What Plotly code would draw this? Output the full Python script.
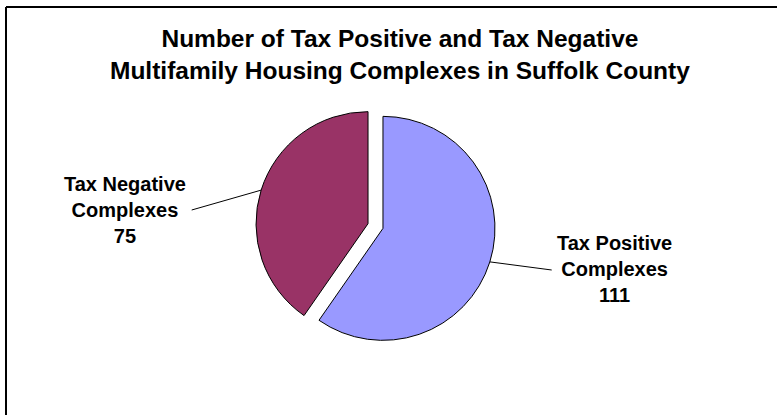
import numpy as np
import plotly.graph_objects as go

# ---- data ----
categories = ["Tax Positive Complexes", "Tax Negative Complexes"]
label_names = ["Tax Positive<br>Complexes", "Tax Negative<br>Complexes"]
values = [111, 75]
colors = ["#9999FF", "#993366"]
title_lines = ["Number of Tax Positive and Tax Negative",
               "Multifamily Housing Complexes in Suffolk County"]

W, H = 777, 415
FONT = "Liberation Sans, Arial, sans-serif"

# pie geometry (pixels)
cx, cy = 375.5, 226.0
R = 112.0
PULL = 0.07
half = R * (1 + PULL)


def px(x):
    return x / W


def py(y):
    return 1 - y / H


fig = go.Figure()
fig.add_trace(go.Pie(
    labels=categories,
    values=values,
    sort=False,
    direction="clockwise",
    rotation=0,
    pull=[PULL, PULL],
    marker=dict(colors=colors, line=dict(color="black", width=1)),
    textinfo="none",
    hoverinfo="label+value",
    domain=dict(x=[px(cx - half), px(cx + half)],
                y=[py(cy + half), py(cy - half)]),
    showlegend=False,
))

# label positions (text centre, line anchor)
label_pos = [(614, 269), (125, 210)]
line_anchor = [(551.7, 270), (191.7, 210)]

total = float(sum(values))
start = 0.0  # degrees clockwise from 12 o'clock
shapes = []
annotations = []
for i, v in enumerate(values):
    span = 360.0 * v / total
    mid = np.deg2rad(start + span / 2)
    start += span
    dx, dy = np.sin(mid), -np.cos(mid)
    ax_, ay_ = cx + PULL * R * dx, cy + PULL * R * dy
    ex, ey = ax_ + R * dx, ay_ + R * dy
    lx, ly = line_anchor[i]
    shapes.append(dict(type="line", xref="paper", yref="paper",
                       x0=px(ex), y0=py(ey), x1=px(lx), y1=py(ly),
                       line=dict(color="black", width=1)))
    tx, ty = label_pos[i]
    annotations.append(dict(
        text="<b>%s<br>%d</b>" % (label_names[i], v),
        xref="paper", yref="paper", x=px(tx), y=py(ty),
        xanchor="center", yanchor="middle", showarrow=False,
        font=dict(family=FONT, size=20, color="black"), align="center"))

annotations.append(dict(
    text="<b>" + "<br>".join(title_lines) + "</b>",
    xref="paper", yref="paper", x=px(400), y=py(54),
    xanchor="center", yanchor="middle", showarrow=False,
    font=dict(family=FONT, size=24.5, color="black"), align="center"))

# outer frame: only the left and top edges fall inside the picture
shapes.append(dict(type="line", xref="paper", yref="paper",
                   x0=px(6), y0=0, x1=px(6), y1=py(7),
                   line=dict(color="black", width=2)))
shapes.append(dict(type="line", xref="paper", yref="paper",
                   x0=px(6), y0=py(7), x1=1, y1=py(7),
                   line=dict(color="black", width=2)))

fig.update_layout(
    width=W, height=H, autosize=False,
    margin=dict(l=0, r=0, t=0, b=0),
    paper_bgcolor="white", plot_bgcolor="white",
    shapes=shapes, annotations=annotations,
)

fig.write_html(
    "out.html",
    config={"displayModeBar": False},
    post_script="document.body.style.margin='0';"
                "document.body.style.overflow='hidden';"
                "document.documentElement.style.overflow='hidden';",
)
